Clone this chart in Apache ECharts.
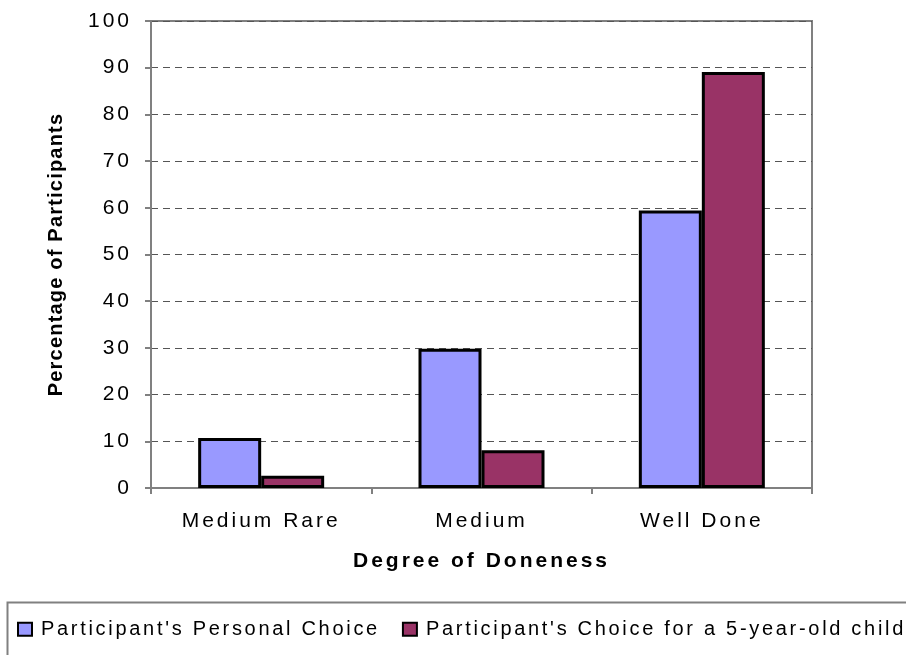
<!DOCTYPE html>
<html>
<head>
<meta charset="utf-8">
<script src="https://cdn.jsdelivr.net/npm/echarts@6/dist/echarts.min.js"></script>
<style>html,body{margin:0;padding:0;background:#fff}#c{width:906px;height:655px}</style>
</head>
<body>
<div id="c"></div>
<script>
var categories = ["Medium Rare", "Medium", "Well Done"];
var personalChoice = [10.7, 29.8, 59.4];
var childChoice = [2.6, 8.1, 89.1];
var seriesNames = ["Participant's Personal Choice", "Participant's Choice for a 5-year-old child"];
var yTicks = [0, 10, 20, 30, 40, 50, 60, 70, 80, 90, 100];

// letter spacing (the reference text is spaced out)
(function () {
  var P = CanvasRenderingContext2D.prototype;
  function sp(font) {
    if (/Liberation/.test(font)) {
      return (/(^|\s)20px/.test(font) && !/bold/.test(font)) ? '2.7px' : '3px';
    }
    if (/Arial/.test(font)) return '1.2px';
    return '0px';
  }
  ['fillText', 'strokeText', 'measureText'].forEach(function (k) {
    var orig = P[k];
    P[k] = function () {
      try { this.letterSpacing = sp(this.font); } catch (e) {}
      return orig.apply(this, arguments);
    };
  });
})();

var chart = echarts.init(document.getElementById('c'), null, {renderer: 'canvas'});
var font = 'Liberation Sans, sans-serif';
chart.setOption({
  animation: false,
  backgroundColor: '#fff',
  textStyle: {fontFamily: font, color: '#000'},
  grid: {left: 151, right: 94, top: 21, bottom: 167, show: true, borderColor: '#808080', borderWidth: 2, backgroundColor: 'transparent'},
  graphic: [{
    type: 'rect', left: 5, top: 600, shape: {x: 0, y: 0, width: 930, height: 70},
    style: {fill: 'none', stroke: '#808080', lineWidth: 2}, z: -1
  }],
  legend: {
    left: 12, top: 613, width: 1400, itemWidth: 14, itemHeight: 13, itemGap: 22,
    icon: 'rect',
    textStyle: {fontSize: 20, color: '#000', fontFamily: font, padding: [0, 0, 0, 4]},
    data: seriesNames
  },
  xAxis: {
    type: 'category', data: categories,
    name: 'Degree of Doneness', nameLocation: 'middle', nameGap: 61,
    nameTextStyle: {fontSize: 21, fontWeight: 'bold', color: '#000', fontFamily: font},
    axisLine: {lineStyle: {color: '#808080', width: 2}},
    axisTick: {show: true, length: 6, lineStyle: {color: '#808080', width: 2}},
    axisLabel: {fontSize: 21, color: '#000', margin: 21, fontFamily: font}
  },
  yAxis: {
    type: 'value', min: 0, max: 100, interval: 10,
    name: 'Percentage of Participants', nameLocation: 'middle', nameGap: 84,
    nameTextStyle: {fontSize: 20, fontWeight: 'bold', color: '#000', fontFamily: 'Arial, sans-serif'},
    axisLine: {show: true, lineStyle: {color: '#808080', width: 2}},
    axisTick: {show: true, length: 6, lineStyle: {color: '#808080', width: 2}},
    axisLabel: {fontSize: 21, color: '#000', margin: 19, fontFamily: font,
      formatter: function (v) { return yTicks.indexOf(v) >= 0 ? String(v) : ''; }},
    splitLine: {show: true, lineStyle: {color: '#555', width: 1, type: [7, 5]}}
  },
  series: [{
    name: seriesNames[0], type: 'bar', data: personalChoice,
    barWidth: 63, barGap: '0%',
    itemStyle: {color: '#9999FF', borderColor: '#000', borderWidth: 3}
  }, {
    name: seriesNames[1], type: 'bar', data: childChoice,
    barWidth: 63, barGap: '0%',
    itemStyle: {color: '#993366', borderColor: '#000', borderWidth: 3}
  }]
});
</script>
</body>
</html>
